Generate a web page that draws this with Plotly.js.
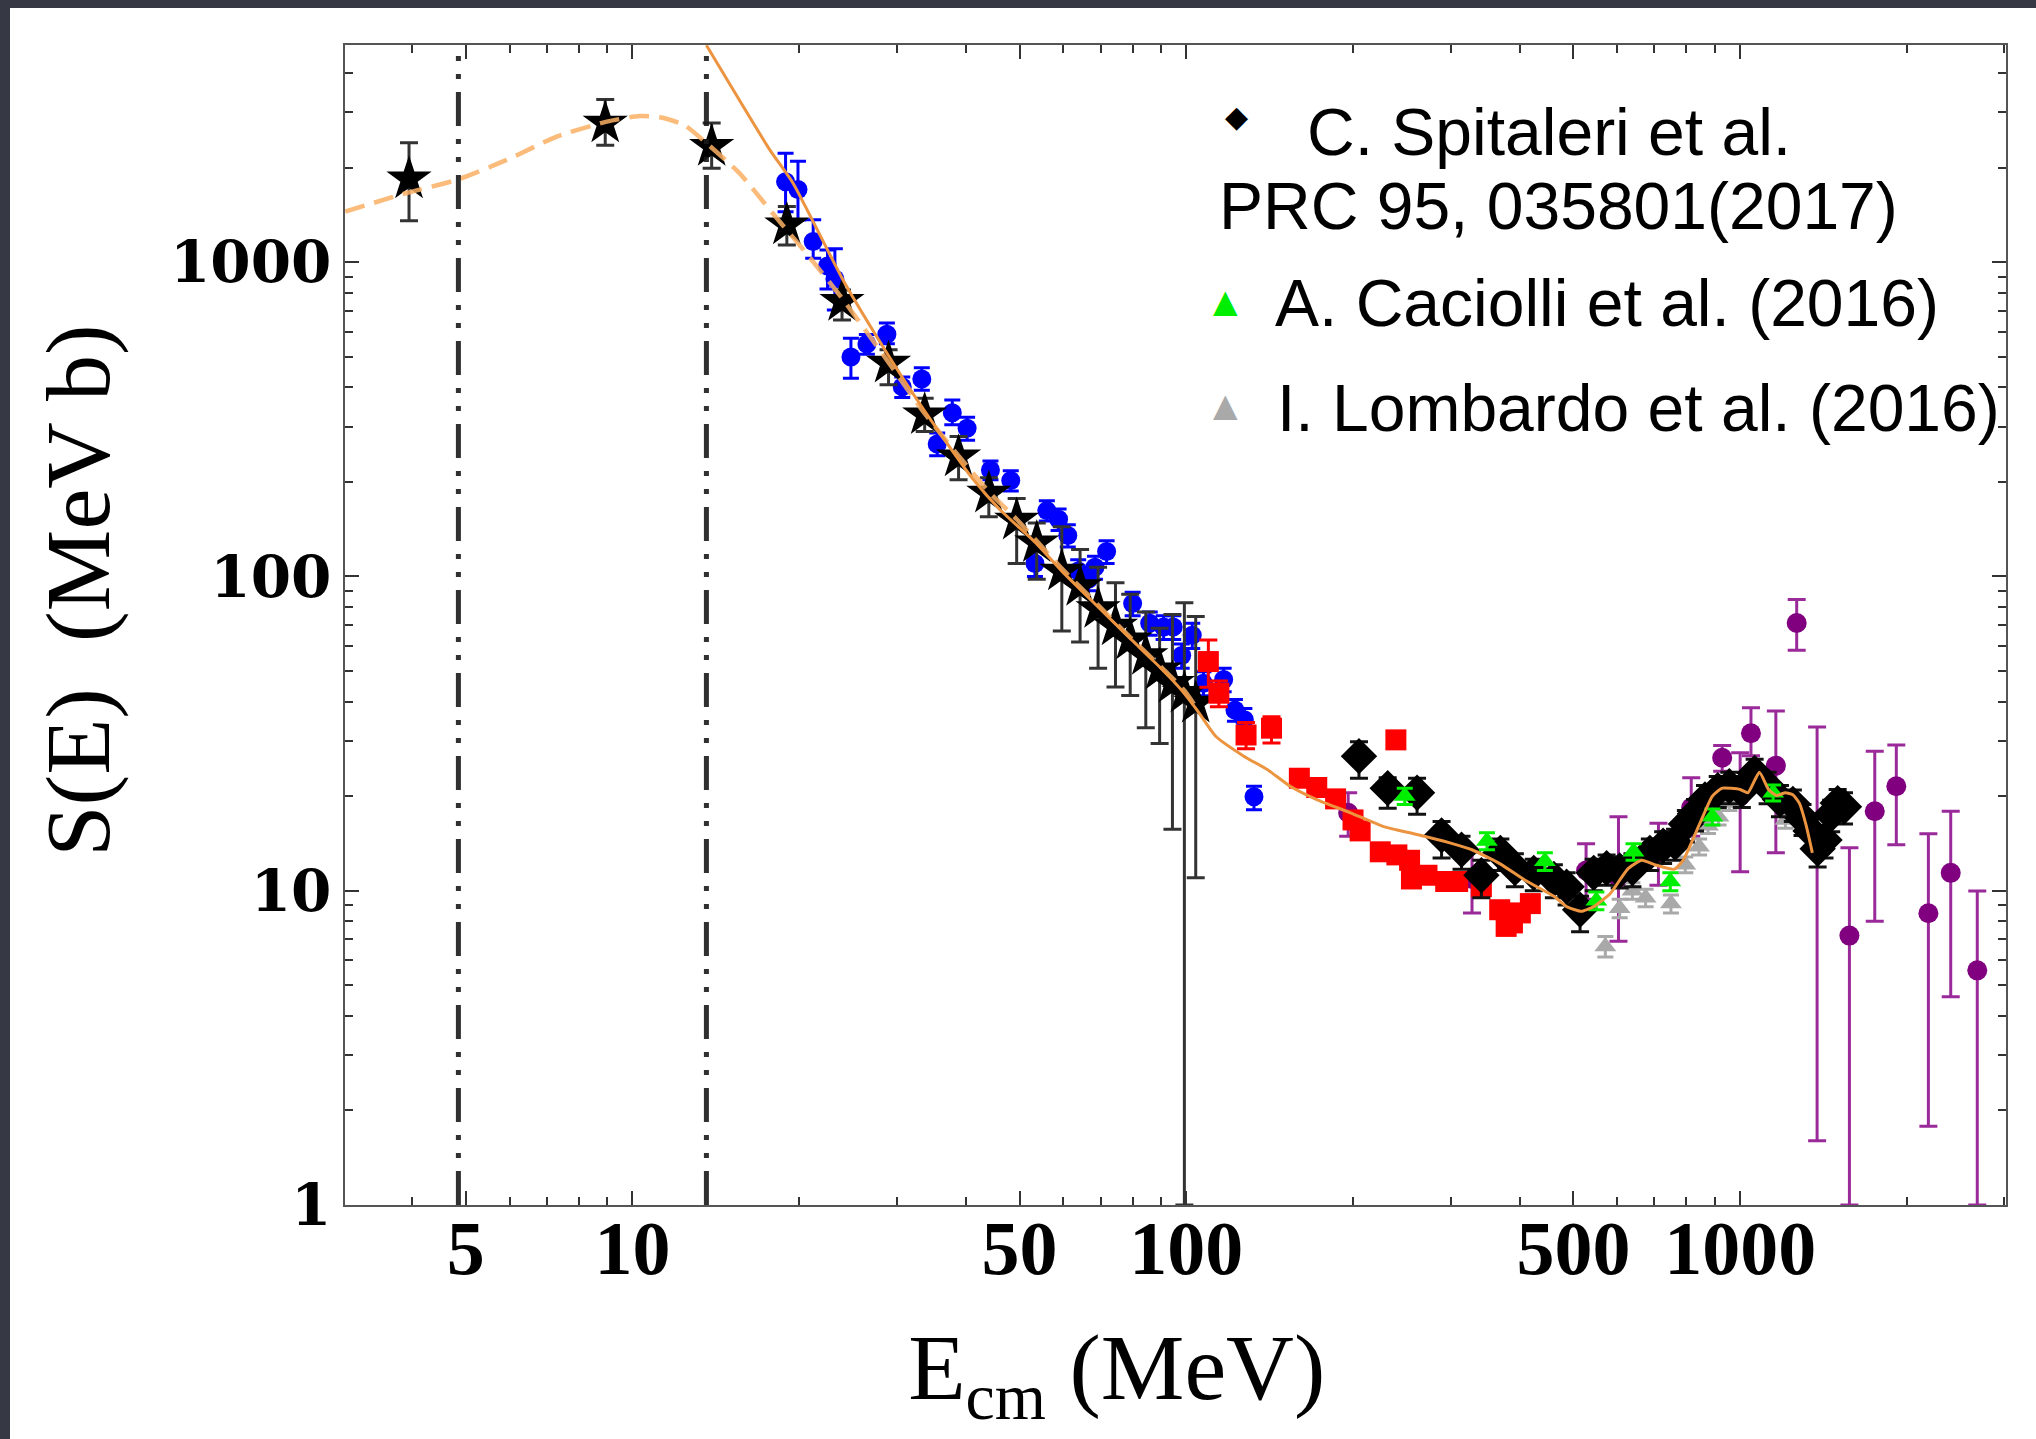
<!DOCTYPE html>
<html><head><meta charset="utf-8">
<script src="https://cdn.plot.ly/plotly-3.0.1.min.js"></script>
<style>
html,body{margin:0;padding:0;background:#363943;overflow:hidden;width:2036px;height:1439px}
#chart{position:absolute;left:10px;top:8px;width:2026px;height:1431px;background:#fff}
</style>
</head><body><div id="chart"></div>
<script>
// ---------- data ----------
const starE = [3.95, 8.93, 13.9, 19.0, 23.9, 29.0, 33.7, 38.8, 44.0, 49.4, 53.7, 59.6, 64.3, 69.3, 74.5, 79.2, 84.5, 89.5, 94.4, 99.2, 104];
const starS = [1840, 2770, 2335, 1314, 750, 477, 327, 240, 184, 151, 128, 104, 92.9, 79, 69.5, 62.8, 56, 50.4, 45.7, 42.5, 39.5];
const starErrUp = [560, 520, 435, 190, 66, 49, 42, 39, 22, 26, 20, 40, 29, 28, 26, 25, 21, 18, 30, 40, 35];
const starErrDown = [485, 415, 345, 180, 95, 70, 38, 37, 29, 41, 30, 37, 31, 28, 25, 21, 23, 21, 30, 41.5, 28.5];

const blueE = [18.9, 19.9, 21.2, 22.5, 23.2, 24.8, 26.5, 28.8, 30.7, 33.3, 35.5, 37.8, 40.2, 44.3, 48.2, 53.3, 56.0, 58.8, 61.1, 63.8, 66.6, 68.4, 71.8, 80.0, 85.9, 91.0, 94.7, 98.1, 102.5, 107.4, 116.8, 122.4, 127.3, 132.5];
const blueS = [1803, 1703, 1164, 972, 884, 499, 549, 590, 401, 425, 264, 332, 296, 218, 202, 110, 162, 152, 135, 104, 98, 107, 120, 82, 71, 69, 69, 56, 65, 45.7, 47, 37.6, 35, 19.9];
const blueErrUp = [420, 390, 200, 122, 220, 74, 40, 50, 30, 36, 22, 32, 25, 15, 15, 10, 12, 12, 11, 9, 8, 9, 10, 7, 6, 6, 6, 5, 6, 4, 4, 3, 3, 1.6];
const blueErrDown = [355, 340, 135, 150, 180, 72, 40, 40, 30, 34, 22, 28, 25, 15, 15, 10, 12, 12, 11, 9, 8, 9, 10, 7, 6, 6, 6, 5, 6, 4, 4, 3, 3, 1.8];

const redE = [109.6, 114.5, 128.2, 142.5, 160, 172, 186, 200, 206, 224, 239, 240, 253, 255, 272, 294, 309, 341, 368, 378, 388, 401, 418];
const redS = [53.6, 42.5, 31.3, 32.9, 22.8, 21.3, 19.6, 16.8, 15.5, 13.3, 30.2, 13.0, 12.5, 10.9, 11.2, 10.7, 10.7, 10.3, 8.7, 7.7, 7.9, 8.5, 9.1];
const redErrUp = [9.2, 4, 3, 2.9, 0.8, 0.8, 0.7, 0.6, 0.6, 0.5, 0, 0.5, 0.5, 0.4, 0.4, 0.4, 0.4, 0.4, 0.3, 0.3, 0.3, 0.3, 0.3];
const redErrDown = [9.2, 4, 3, 3.4, 0.8, 0.8, 0.7, 0.6, 0.6, 0.5, 0, 0.5, 0.5, 0.4, 0.4, 0.4, 0.4, 0.4, 0.3, 0.3, 0.3, 0.3, 0.3];

const spitE = [205, 231, 261, 289, 314, 341, 369, 392, 424, 461, 486, 514, 544, 574, 606, 639, 687, 726, 763, 798, 829, 864, 911, 956, 1007, 1062, 1121, 1180, 1245, 1296, 1340, 1380, 1420, 1460, 1500, 1540];
const spitS = [26.8, 21.2, 20.5, 15.0, 13.5, 11.2, 13.2, 11.8, 11.4, 10.9, 10.3, 8.7, 11.4, 11.8, 11.6, 11.8, 13.2, 13.9, 14.2, 16.3, 17.6, 19.5, 20.9, 21.5, 20.9, 23.7, 21.5, 19.5, 18.9, 17.0, 15.5, 13.6, 14.5, 17.5, 19.0, 18.5];
const spitErrUp = [3.0, 1.7, 2.3, 1.6, 1.4, 1.3, 1.4, 1.3, 1.2, 1.2, 1.1, 0.9, 1.2, 1.2, 1.2, 1.3, 1.4, 1.5, 1.5, 1.7, 1.9, 2.1, 2.2, 2.3, 2.2, 2.5, 2.3, 2.1, 2.0, 1.8, 1.7, 1.5, 1.6, 1.9, 2.0, 2.0];
const spitErrDown = [4.0, 2.9, 3.0, 2.3, 1.8, 1.7, 1.6, 1.5, 1.4, 1.4, 1.3, 1.3, 1.4, 1.4, 1.4, 1.5, 1.6, 1.7, 1.7, 2.0, 2.1, 2.3, 2.5, 2.6, 2.5, 2.8, 2.6, 2.3, 2.3, 2.0, 1.9, 1.7, 1.8, 2.1, 2.3, 2.2];

const caciolliE = [248, 349, 444, 550, 642, 748, 891, 1147];
const caciolliS = [20.0, 14.4, 12.4, 9.3, 13.3, 10.7, 17.2, 20.5];
const caciolliErr = [1.2, 0.9, 0.8, 0.6, 0.8, 0.7, 1.0, 1.2];

const lombardoE = [571, 606, 639, 675, 750, 796, 843, 875, 914, 956, 1207];
const lombardoS = [6.65, 8.8, 10.0, 9.5, 9.1, 12.1, 13.8, 16.1, 17.2, 19.0, 16.8];
const lombardoErr = [0.5, 0.6, 0.6, 0.6, 0.6, 0.7, 0.8, 0.9, 1.0, 1.0, 1.0];

const purpleE = [196, 328, 527, 603, 712, 816, 928, 1000, 1046, 1160, 1265, 1377, 1575, 1750, 1914, 2187, 2400, 2680];
const purpleS = [17.7, 10.9, 11.6, 11.0, 13.2, 18.4, 26.5, 20.0, 31.7, 25.0, 71.1, 14.8, 7.2, 17.9, 21.5, 8.48, 11.4, 5.58];
const purpleErrUp = [2.8, 2.4, 2.5, 6.2, 3.2, 4.5, 2.5, 7.5, 6.5, 12.3, 13.3, 18.4, 6.5, 9.9, 7.6, 6.7, 6.5, 4.4];
const purpleErrDown = [2.8, 2.4, 2.2, 4.1, 2.8, 3.5, 2.5, 8.5, 4.8, 11.8, 12.9, 13.2, 6.2, 9.9, 7.5, 6.7, 6.8, 4.58];

const fitDashedE = [3.03, 3.91, 4.82, 5.93, 7.30, 8.99, 10.3, 11.2, 12.4, 13.6, 15.6, 17.9, 20.6, 24.0, 29.0, 33.7, 38.8, 44.0, 49.4, 59.6, 69.3, 79.2, 89.5, 99.0, 104.5];
const fitDashedS = [1449, 1660, 1828, 2115, 2510, 2800, 2918, 2890, 2733, 2393, 1920, 1433, 1068, 760, 480, 330, 242, 186, 152, 106, 81, 64, 52, 43.5, 38];

const fitSolidE = [13.6, 17.7, 19.5, 24.0, 27.6, 31.2, 35.9, 41.3, 46.1, 53.7, 59.6, 69.3, 79.2, 89.5, 98.0, 104.5, 113, 127, 140, 154, 172, 198, 227, 261, 299, 328, 368, 409, 461, 486, 517, 544, 583, 626, 664, 701, 760, 789, 846, 891, 928, 1000, 1033, 1083, 1127, 1164, 1207, 1245, 1279, 1315, 1350];
const fitSolidS = [4900, 2277, 1783, 878, 580, 412, 286, 203, 163, 127, 104, 80, 63.5, 51.5, 43.5, 37.6, 31, 26.8, 24.3, 21.5, 19.5, 17.7, 16.0, 15.1, 14.2, 13.5, 12.2, 10.8, 9.6, 8.9, 8.6, 8.9, 9.8, 11.7, 12.5, 12.1, 11.7, 12.5, 16.4, 20.0, 21.2, 21.0, 20.5, 23.8, 20.9, 20.1, 20.5, 20.2, 19.0, 16.2, 13.2];

const vlineE = [4.85, 13.6];

const xRangeLog = [0.481, 3.480];
const yRangeLog = [0, 3.691];
const xTickVals = [5, 10, 50, 100, 500, 1000];
const xTickText = ['5', '10', '50', '100', '500', '1000'];
const xMinorVals = [3, 4, 6, 7, 8, 9, 20, 30, 40, 60, 70, 80, 90, 200, 300, 400, 600, 700, 800, 900, 2000, 3000];
const yTickVals = [1, 10, 100, 1000];
const yTickText = ['1', '10', '100', '1000'];
const yMinorVals = [2, 3, 4, 5, 6, 7, 8, 9, 20, 30, 40, 50, 60, 70, 80, 90, 200, 300, 400, 500, 600, 700, 800, 900, 2000, 3000, 4000];

const legendLabels = ['C. Spitaleri et al.', 'PRC 95, 035801(2017)', 'A. Caciolli et al. (2016)', 'I. Lombardo et al. (2016)'];
const legendSymbols = ['◆', '▲', '▲'];
const legendColors = ['#000000', '#00ee00', '#a9a9a9'];

// ---------- traces ----------
function errs(up, down, color, thick, w) {
  return {type: 'data', symmetric: false, array: up, arrayminus: down, color: color, thickness: thick, width: w, visible: true};
}
const traces = [
  {x: purpleE, y: purpleS, type: 'scatter', mode: 'markers', name: 'purple data',
   marker: {symbol: 'circle', size: 20, color: '#800080'},
   error_y: errs(purpleErrUp, purpleErrDown, '#9a2a9a', 3, 9)},
  {x: blueE, y: blueS, type: 'scatter', mode: 'markers', name: 'blue data',
   marker: {symbol: 'circle', size: 19, color: '#0000ff'},
   error_y: errs(blueErrUp, blueErrDown, '#0000ff', 3, 8)},
  {x: starE, y: starS, type: 'scatter', mode: 'markers', name: 'star data',
   marker: {symbol: 'star', size: 34, color: '#000000'},
   error_y: errs(starErrUp, starErrDown, '#333333', 3, 9)},
  {x: redE, y: redS, type: 'scatter', mode: 'markers', name: 'red data',
   marker: {symbol: 'square', size: 21, color: '#ff0000'},
   error_y: errs(redErrUp, redErrDown, '#ff0000', 3, 9)},
  {x: lombardoE, y: lombardoS, type: 'scatter', mode: 'markers', name: legendLabels[3],
   marker: {symbol: 'triangle-up', size: 19, color: '#a9a9a9'},
   error_y: {type: 'data', array: lombardoErr, color: '#a9a9a9', thickness: 3, width: 8}},
  {x: spitE, y: spitS, type: 'scatter', mode: 'markers', name: legendLabels[0],
   marker: {symbol: 'diamond', size: 28, color: '#000000'},
   error_y: errs(spitErrUp, spitErrDown, '#111111', 3, 9)},
  {x: caciolliE, y: caciolliS, type: 'scatter', mode: 'markers', name: legendLabels[2],
   marker: {symbol: 'triangle-up', size: 19, color: '#00ee00'},
   error_y: {type: 'data', array: caciolliErr, color: '#00ee00', thickness: 3, width: 8}},
  {x: fitDashedE, y: fitDashedS, type: 'scatter', mode: 'lines', name: 'fit (dashed)',
   line: {color: 'rgba(250,175,100,0.85)', width: 4.5, dash: '20px,10px', shape: 'spline', smoothing: 0.6}},
  {x: fitSolidE, y: fitSolidS, type: 'scatter', mode: 'lines', name: 'fit',
   line: {color: '#ec9440', width: 3, shape: 'spline', smoothing: 0.5}},
  // empty trace that only carries the mirrored (top / right) tick axes
  {x: [], y: [], type: 'scatter', mode: 'markers', xaxis: 'x2', yaxis: 'y2', showlegend: false, hoverinfo: 'skip'}
];

// ---------- layout ----------
const shapes = vlineE.map(v => ({
  type: 'line', xref: 'x', yref: 'paper', x0: v, x1: v, y0: 0, y1: 1,
  line: {color: 'rgba(25,25,25,0.9)', width: 5, dash: '34px,13px,5px,13px,5px,13px'}
}));

function px2paperX(X) { return (X - 345) / 1661; }
function px2paperY(Y) { return (1205 - Y) / 1160; }
const legFont = {family: 'Liberation Sans, Arial, sans-serif', size: 66, color: '#000'};
const annotations = [
  {text: legendSymbols[0], x: px2paperX(1236), y: px2paperY(116), font: {family: 'DejaVu Sans', size: 30, color: legendColors[0]}},
  {text: legendLabels[0], x: px2paperX(1305), y: px2paperY(132), xanchor: 'left', font: legFont},
  {text: legendLabels[1], x: px2paperX(1217), y: px2paperY(206), xanchor: 'left', font: legFont},
  {text: legendSymbols[1], x: px2paperX(1225), y: px2paperY(301), font: {family: 'DejaVu Sans', size: 32, color: legendColors[1]}},
  {text: legendLabels[2], x: px2paperX(1273), y: px2paperY(303), xanchor: 'left', font: legFont},
  {text: legendSymbols[2], x: px2paperX(1225), y: px2paperY(405), font: {family: 'DejaVu Sans', size: 32, color: legendColors[2]}},
  {text: legendLabels[3], x: px2paperX(1275), y: px2paperY(408), xanchor: 'left', font: legFont}
].map(a => Object.assign({xref: 'paper', yref: 'paper', showarrow: false, xanchor: 'center', yanchor: 'middle'}, a));

const tickStyle = {ticks: 'inside', ticklen: 14, tickwidth: 2, tickcolor: '#333'};
const minorStyle = {tickmode: 'array', ticks: 'inside', ticklen: 8, tickwidth: 2, tickcolor: '#333', showgrid: false};

const layout = {
  width: 2026, height: 1431,
  margin: {l: 335, r: 30, t: 37, b: 234},
  paper_bgcolor: '#ffffff', plot_bgcolor: '#ffffff',
  showlegend: false,
  xaxis: Object.assign({
    type: 'log', range: xRangeLog,
    tickmode: 'array', tickvals: xTickVals, ticktext: xTickText,
    minor: Object.assign({tickvals: xMinorVals}, minorStyle),
    showgrid: false, zeroline: false,
    showline: true, linecolor: '#555', linewidth: 2, mirror: true,
    tickfont: {family: 'Liberation Serif, Times New Roman, serif', size: 76, color: '#000', weight: 'bold'},
    ticklabelstandoff: -24,
    title: {text: 'E<sub>cm</sub> (MeV)&nbsp;&nbsp;&nbsp;&nbsp;&nbsp;', font: {family: 'Liberation Serif, Times New Roman, serif', size: 94, color: '#000'}, standoff: 44}
  }, tickStyle),
  yaxis: Object.assign({
    type: 'log', range: yRangeLog,
    tickmode: 'array', tickvals: yTickVals, ticktext: yTickText,
    minor: Object.assign({tickvals: yMinorVals}, minorStyle),
    showgrid: false, zeroline: false,
    showline: true, linecolor: '#555', linewidth: 2, mirror: true,
    tickfont: {family: 'DejaVu Serif, serif', size: 58, color: '#000', weight: 'bold'},
    title: {text: '&nbsp;&nbsp;&nbsp;S(E)  (MeV b)', font: {family: 'Liberation Serif, Times New Roman, serif', size: 92, color: '#000'}, standoff: 30}
  }, tickStyle),
  xaxis2: Object.assign({
    type: 'log', range: xRangeLog, overlaying: 'x', side: 'top', anchor: 'y2',
    tickmode: 'array', tickvals: xTickVals, showticklabels: false,
    minor: Object.assign({tickvals: xMinorVals}, minorStyle),
    showgrid: false, zeroline: false, showline: false
  }, tickStyle),
  yaxis2: Object.assign({
    type: 'log', range: yRangeLog, overlaying: 'y', side: 'right', anchor: 'x2',
    tickmode: 'array', tickvals: yTickVals, showticklabels: false,
    minor: Object.assign({tickvals: yMinorVals}, minorStyle),
    showgrid: false, zeroline: false, showline: false
  }, tickStyle),
  shapes: shapes,
  annotations: annotations
};

Plotly.newPlot('chart', traces, layout, {displayModeBar: false, staticPlot: true});
</script>
</body></html>
